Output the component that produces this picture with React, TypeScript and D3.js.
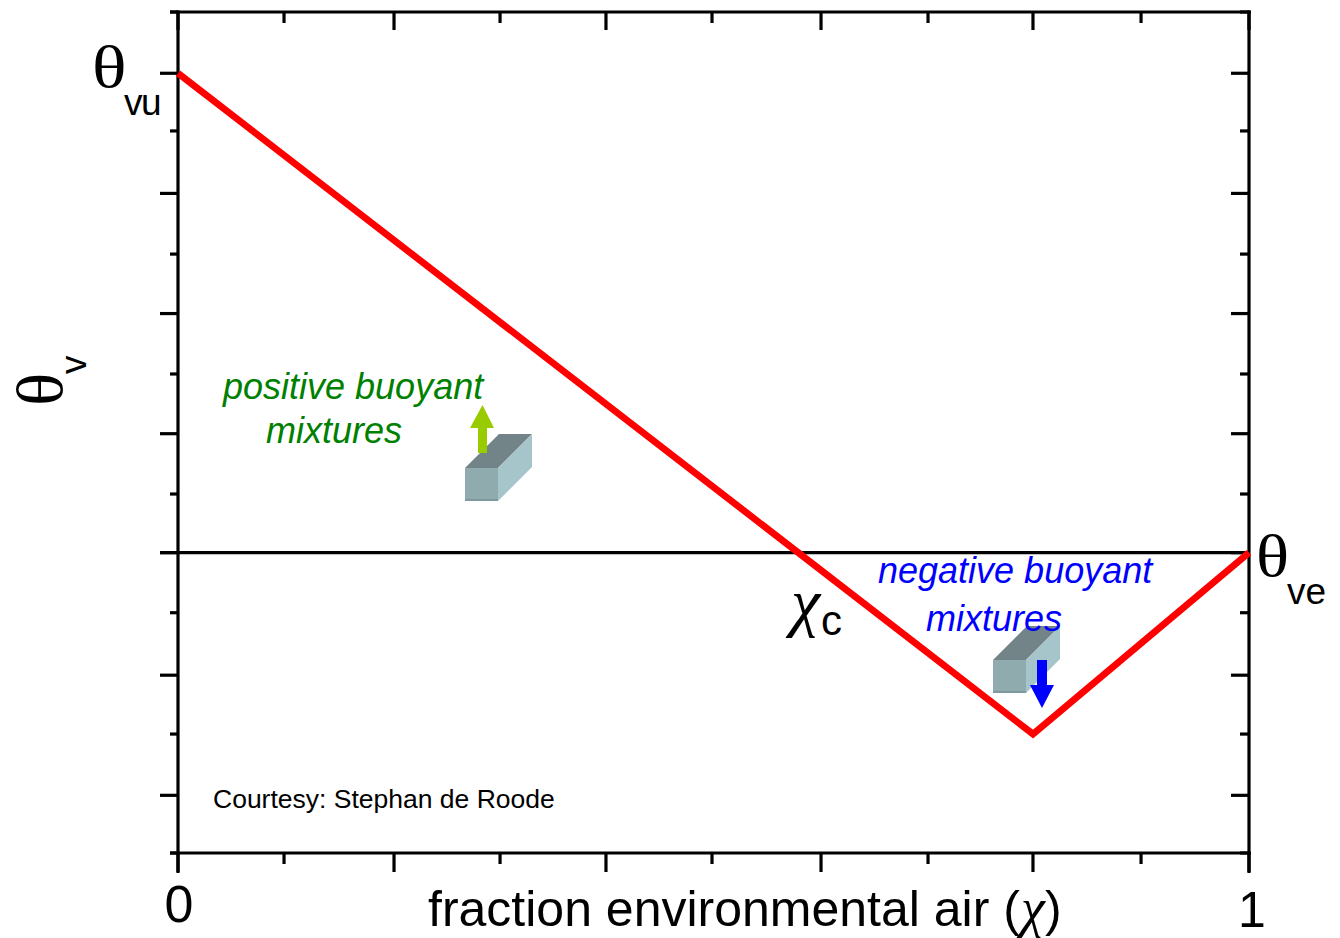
import React, { useEffect, useRef } from "react";
import * as d3 from "d3";

const xMajor = [0, 0.2017, 0.3996, 0.6004, 0.7983, 1];
const xMinor = [0.099, 0.3007, 0.4986, 0.7003, 0.8992];
const yMajor = [3.99, 2.99, 1.99, 0.99, 0, -1.02, -2.02];
const yMinor = [4.5, 3.51, 2.485, 1.487, 0.488, -0.5, -1.51, -2.5];
const chi = [0, 0.7983, 1];
const theta = [3.99, -1.51, 0];

const W = 1340, H = 938;
const serif = "'Liberation Serif', serif";
const sans = "'Liberation Sans', Arial, sans-serif";

export default function App() {
  const ref = useRef<SVGSVGElement | null>(null);
  useEffect(() => {
    const svg = d3.select(ref.current);
    svg.selectAll("*").remove();
    const x = d3.scaleLinear().domain([0, 1]).range([178, 1249]);
    const y = d3.scaleLinear().domain([-2.5, 4.5]).range([853, 12]);

    const seg = (x1: number, y1: number, x2: number, y2: number, w = 3.2, c = "#000") =>
      svg.append("line").attr("x1", x1).attr("y1", y1).attr("x2", x2).attr("y2", y2)
        .attr("stroke", c).attr("stroke-width", w);

    const poly = (pts: number[][], fill: string) =>
      svg.append("polygon").attr("points", pts.map((p) => p.join(",")).join(" ")).attr("fill", fill);

    const txt = (s: string, px: number, py: number, size: number, o: any = {}) =>
      svg.append("text").attr("x", px).attr("y", py).attr("font-size", size)
        .attr("font-family", o.family || sans).attr("fill", o.fill || "#000")
        .attr("font-style", o.italic ? "italic" : "normal")
        .attr("text-anchor", o.anchor || "start")
        .attr("letter-spacing", o.spacing || null)
        .attr("transform", o.transform || null).text(s);

    // Cuboid drawn relative to the lower-left corner of its front face
    const cuboid = (cx: number, cy: number) => {
      const s = 33, d = 34;
      poly([[cx, cy - s], [cx + d, cy - s - d], [cx + s + d, cy - s - d], [cx + s, cy - s]], "#728487");
      poly([[cx + s, cy - s], [cx + s + d, cy - s - d], [cx + s + d, cy - d], [cx + s, cy]], "#a6c5ca");
      poly([[cx, cy - s], [cx + s, cy - s], [cx + s, cy], [cx, cy]], "#8fabae");
      svg.append("line").attr("x1", cx).attr("y1", cy - 1).attr("x2", cx + s).attr("y2", cy - 1)
        .attr("stroke", "#7f9a9e").attr("stroke-width", 2);
    };

    // Frame
    seg(178, 10.5, 178, 873);
    seg(1249, 10.5, 1249, 873);
    seg(170, 12, 1251, 12);
    seg(170, 853, 1251, 853);

    // X ticks
    xMajor.forEach((v) => {
      seg(x(v), 853, x(v), 872);
      seg(x(v), 12, x(v), 30);
    });
    xMinor.forEach((v) => {
      seg(x(v), 853, x(v), 864);
      seg(x(v), 12, x(v), 23);
    });

    // Y ticks
    yMajor.forEach((v) => {
      seg(160, y(v), 178, y(v));
      seg(1231, y(v), 1249, y(v));
    });
    yMinor.forEach((v) => {
      seg(170, y(v), 178, y(v));
      seg(1240, y(v), 1249, y(v));
    });

    // Zero line
    seg(160, y(0), 1249, y(0));

    // Cuboids and the green arrow
    cuboid(465, 501);
    cuboid(993, 693);
    poly([[482.5, 405], [494, 428], [487, 428], [487, 453], [478, 453], [478, 428], [470, 428]], "#99cc00");

    // Mixing line
    const line = d3.line<number>().x((d) => x(d)).y((_, i) => y(theta[i]));
    svg.append("path").attr("d", line(chi) as string).attr("fill", "none")
      .attr("stroke", "#ff0000").attr("stroke-width", 6.8).attr("stroke-linejoin", "miter");

    // Annotations
    txt("positive buoyant", 223, 399, 36, { fill: "#008000", italic: true });
    txt("mixtures", 266, 443, 36, { fill: "#008000", italic: true });
    txt("negative buoyant", 878, 583, 36, { fill: "#0000ff", italic: true });
    txt("mixtures", 926, 631, 36, { fill: "#0000ff", italic: true });
    poly([[1042, 708], [1054, 685], [1047, 685], [1047, 660], [1037, 660], [1037, 685], [1030, 685]], "#0000ff");
    txt("Courtesy: Stephan de Roode", 213, 808, 26.5);

    // Symbols
    txt("θ", 0, 0, 60, { family: serif, transform: "translate(92,87) scale(1.2,1)" });
    txt("vu", 124, 115, 37, { spacing: -1.5 });
    txt("θ", 0, 0, 60, { family: serif, transform: "translate(1256,576) scale(1.15,1)" });
    txt("ve", 1287, 604, 37);
    txt("χ", 791, 624, 66, { family: serif, italic: true });
    txt("c", 821, 635, 42);
    txt("θ", 0, 0, 66, { family: serif, transform: "translate(62,406) rotate(-90) scale(1.05,1)" });
    txt("v", 86, 374, 37, { transform: "rotate(-90 86 374)" });

    // Tick labels and axis title
    txt("0", 179, 922, 52, { anchor: "middle" });
    txt("1", 1252, 927, 50, { anchor: "middle" });
    const title = txt("fraction environmental air (", 428, 926, 50);
    const tw = (title.node() as SVGTextElement).getComputedTextLength();
    txt("χ", 428 + tw + 1, 926, 54, { family: serif, italic: true });
    txt(")", 1045, 926, 50);
  }, []);
  return (
    <svg ref={ref} width={W} height={H} viewBox={`0 0 ${W} ${H}`}
      style={{ position: "absolute", left: 0, top: 0, display: "block", background: "#fff" }} />
  );
}
